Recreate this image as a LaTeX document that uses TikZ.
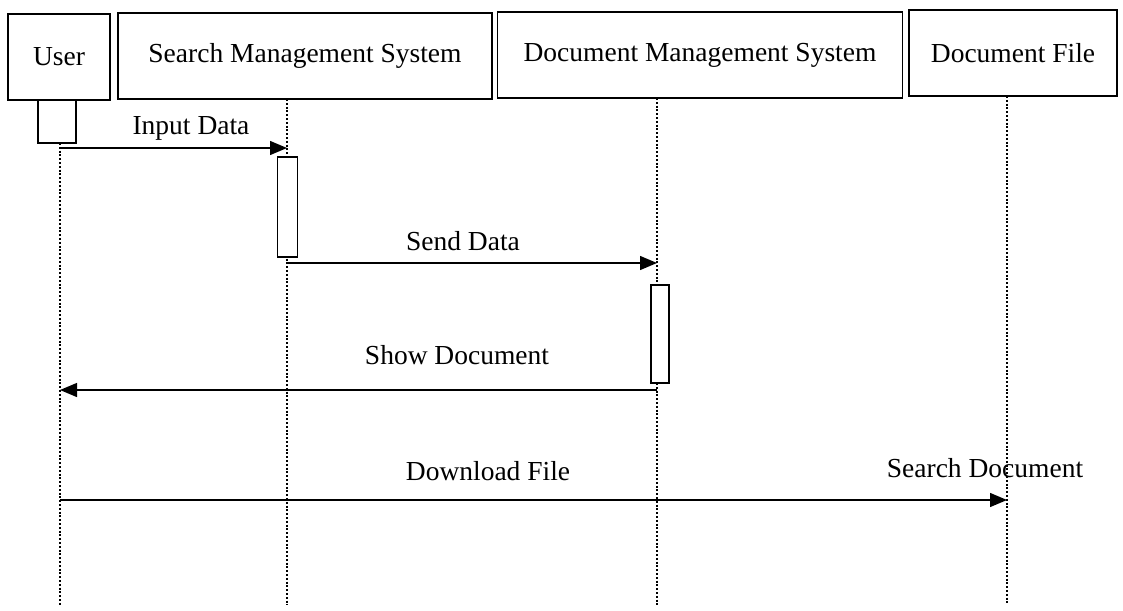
\documentclass[tikz,border=0pt]{standalone}
\usepackage{fontspec}
\setmainfont{Liberation Serif}
\usetikzlibrary{arrows.meta}
\begin{document}
\begin{tikzpicture}[x=1pt,y=-1pt,
  obj/.style={draw,line width=1.3pt,rectangle,minimum height=86pt,inner sep=0pt,font=\fontsize{27.5}{32}\selectfont},
  act/.style={draw,line width=1.3pt,fill=white,rectangle,inner sep=0pt},
  life/.style={line width=2.4pt,dash pattern=on 2pt off 1.8pt},
  msg/.style={line width=1.3pt,-{Triangle[length=17pt,width=14pt]}},
  lbl/.style={inner sep=0pt,font=\fontsize{27.5}{32}\selectfont}]
\useasboundingbox (0,0) rectangle (1123,610);
% objects
\node[obj,minimum width=102pt] (user) at (59,57) {User};
\node[obj,minimum width=374pt] (sms) at (305,56) {Search Management System};
\node[obj,minimum width=405pt] (dms) at (700,55) {Document Management System};
\node[obj,minimum width=208pt] (df) at (1013,53) {Document File};
% lifeline coordinates
\coordinate (uT) at (60,143);   \coordinate (uB) at (60,605);
\coordinate (sT) at (287,99);   \coordinate (sB) at (287,605);
\coordinate (dT) at (657,98);   \coordinate (dB) at (657,605);
\coordinate (fT) at (1007,96);  \coordinate (fB) at (1007,605);
\draw[life] (uT) -- (uB);
\draw[life] (sT) -- (sB);
\draw[life] (dT) -- (dB);
\draw[life] (fT) -- (fB);
% activations
\node[act,minimum width=38pt,minimum height=43pt] (ua) at (57,121.5) {};
\node[act,minimum width=20pt,minimum height=100pt] (sa) at (287.5,207) {};
\node[act,minimum width=18pt,minimum height=98pt] (da) at (660,334) {};
% message points
\coordinate (m1a) at (60,148);  \coordinate (m1b) at (287,148);
\coordinate (m2a) at (287,263); \coordinate (m2b) at (657,263);
\coordinate (m3a) at (657,390); \coordinate (m3b) at (60,390);
\coordinate (m4a) at (60,500);  \coordinate (m4b) at (1007,500);
\draw[msg] (m1a) -- (m1b);
\draw[msg] (m2a) -- (m2b);
\draw[msg] (m3a) -- (m3b);
\draw[msg] (m4a) -- (m4b);
% labels
\node[lbl] (l1) at (191,128) {Input Data};
\node[lbl] (l2) at (463,241) {Send Data};
\node[lbl] (l3) at (457,355) {Show Document};
\node[lbl] (l4) at (488,471) {Download File};
\node[lbl] (l5) at (985,468) {Search Document};
\end{tikzpicture}
\end{document}
